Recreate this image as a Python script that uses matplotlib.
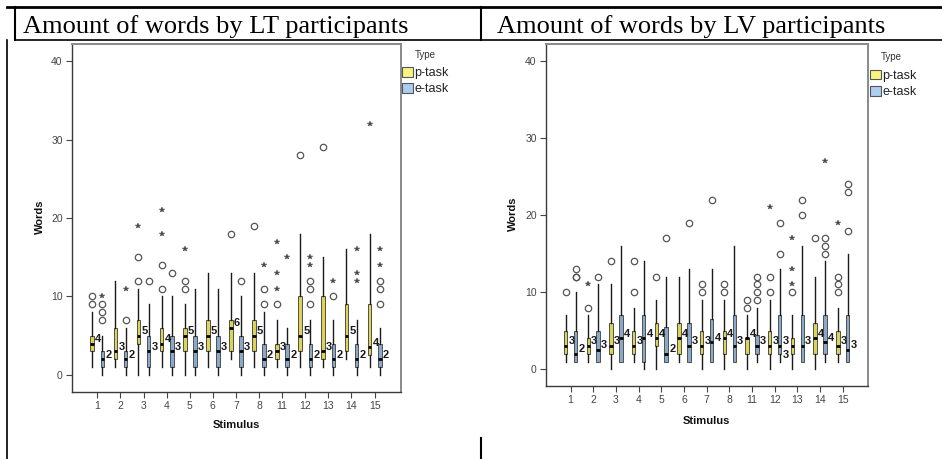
#!/usr/bin/env python3
"""Word counts per stimulus, LT vs LV participants (SPSS-style boxplots)."""

import numpy as np
import matplotlib
matplotlib.use("Agg")
import matplotlib.pyplot as plt
from matplotlib.lines import Line2D
from matplotlib.patches import Patch

W, H = 942, 459

STIMULI = ["1", "2", "3", "4", "5", "6", "7", "8", "11", "12", "13", "14", "15"]
TYPES = ["p-task", "e-task"]
YTICKS = [0, 10, 20, 30, 40]

# (lower whisker, Q1, median, Q3, upper whisker) per stimulus
LT_P_BOX = [(1, 3, 4, 5, 8), (1, 2, 3, 6, 12), (0, 4, 5, 7, 11), (1, 3, 4, 6, 10),
            (0, 3, 5, 6, 9), (1, 3, 5, 7, 13), (2, 3, 6, 7, 13), (1, 3, 5, 7, 13),
            (1, 2, 3, 4, 7), (1, 3, 5, 10, 18), (1, 2, 3, 10, 15), (2, 3, 5, 9, 16),
            (1, 2.5, 3.5, 9, 18)]
LT_P_CIRCLES = [[10, 9], [], [12, 15], [11, 14], [12, 11], [], [18], [19], [9],
                [28], [29], [], []]
LT_P_STARS = [[], [], [19], [18, 21], [16], [], [], [], [11, 13, 17], [], [], [], [32]]
LT_P_LABELS = ["4", "3", "5", "4", "5", "5", "6", "5", "3", "5", "3", "5", "4"]

LT_E_BOX = [(0, 1, 2, 3, 5), (0, 1, 2, 3, 6), (0, 1, 3, 5, 9), (0, 1, 3, 5, 10),
            (0, 1, 3, 5, 11), (0, 1, 3, 5, 11), (0, 1, 3, 5, 10), (0, 1, 2, 4, 8),
            (0, 1, 2, 4, 6), (0, 1, 2, 4, 7), (0, 1, 2, 4, 7), (0, 1, 2, 4, 7),
            (0, 1, 2, 4, 6)]
LT_E_CIRCLES = [[9, 8, 7], [7], [12], [13], [], [], [12], [9, 11], [], [9, 11, 12],
                [10], [], [12, 11, 9]]
LT_E_STARS = [[10], [11], [], [], [], [], [], [14], [15], [14, 15], [12],
              [16, 13, 12], [16, 14]]
LT_E_LABELS = ["2", "2", "3", "3", "3", "3", "3", "2", "2", "2", "2", "2", "2"]

LV_P_BOX = [(1, 2, 3, 5, 7), (1, 2, 3, 4, 7), (0, 2, 3, 6, 11), (1, 2, 3, 5, 8),
            (0, 3, 4, 6, 9), (1, 2, 4, 6, 12), (0, 2, 3, 5, 9), (0, 2, 4, 5, 9),
            (0, 2, 4, 4, 7), (0, 2, 3, 5, 9), (0, 2, 3, 4, 7), (0, 2, 4, 6, 12),
            (1, 2, 3, 5, 8)]
LV_P_CIRCLES = [[10], [8], [14], [10, 14], [12], [], [11, 10], [11, 10], [9, 8],
                [12, 10], [10], [17], [12, 11, 10]]
LV_P_STARS = [[], [11], [], [], [], [], [], [], [], [21], [11, 13, 17], [], [19]]
LV_P_LABELS = ["3", "3", "3", "3", "4", "4", "3", "4", "4", "3", "3", "4", "3"]

LV_E_BOX = [(1, 1, 2, 5, 10), (1, 1, 2.5, 5, 11), (1, 1, 4, 7, 16), (0, 1, 4, 7, 14),
            (1, 1, 2, 5.5, 12), (1, 1, 3, 6, 13), (1, 1, 3.5, 6.5, 13), (1, 1, 3, 7, 16),
            (1, 2, 3, 4.5, 8), (1, 2, 3, 7, 13), (1, 1, 3, 7, 16), (1, 2, 3.5, 7, 14),
            (1, 1, 2.5, 7, 15)]
LV_E_CIRCLES = [[12, 12, 13], [12], [], [], [17], [19], [22], [], [12, 11, 10, 9],
                [19, 15], [22, 20], [17, 16, 15], [24, 23, 18]]
LV_E_STARS = [[], [], [], [], [], [], [], [], [], [], [], [27], []]
LV_E_LABELS = ["2", "3", "4", "4", "2", "3", "4", "3", "3", "3", "3", "4", "3"]

P_FILL, E_FILL = "#ddd454", "#8aa8ca"
P_LEGEND, E_LEGEND = "#fbf380", "#abcdee"

plt.rcParams["font.family"] = ["Liberation Sans", "DejaVu Sans"]


def px(x, y):
    return x / W, 1 - y / H


def draw_panel(ax, series, left_labels=()):
    x = np.arange(len(STIMULI))
    box_w = 0.16
    for k, (boxes, circles, stars, labels, fill) in enumerate(series):
        pos = x + (-0.22 if k == 0 else 0.22)
        stats = [dict(whislo=b[0], q1=b[1], med=b[2], q3=b[3], whishi=b[4], fliers=[])
                 for b in boxes]
        ax.bxp(stats, positions=pos, widths=box_w, patch_artist=True,
               showcaps=False, showfliers=False, manage_ticks=False,
               boxprops=dict(facecolor=fill, edgecolor="#505050", linewidth=0.7),
               whiskerprops=dict(color="#1a1a1a", linewidth=1.0),
               medianprops=dict(color="black", linewidth=2.0, solid_capstyle="butt"))
        for p, vals in zip(pos, circles):
            ax.plot([p] * len(vals), vals, "o", mfc="none", mec="#555555",
                    ms=4.6, mew=0.9, ls="none")
        for p, vals in zip(pos, stars):
            ax.plot([p] * len(vals), vals, "*", color="#4a4a4a", ms=4.3, mew=0.3,
                    ls="none")
        for i, (p, b, lab) in enumerate(zip(pos, boxes, labels)):
            if (i, k) in left_labels:
                ax.annotate(lab, (p - box_w / 2, b[2]), xytext=(-1, -2.5),
                            textcoords="offset points", ha="right", va="top",
                            fontsize=8, fontweight="bold", color="#1a1a1a")
            else:
                ax.annotate(lab, (p + box_w / 2, b[2]), xytext=(0.8, 1.2),
                            textcoords="offset points", ha="left", va="baseline",
                            fontsize=8, fontweight="bold", color="#1a1a1a")

    ax.set_xticks(x)
    ax.set_xticklabels(STIMULI)
    ax.set_yticks(YTICKS)
    ax.tick_params(axis="both", labelsize=7.5, labelcolor="#444444", color="#444444",
                   length=4.5, width=0.8, pad=2)
    for side in ("left", "bottom"):
        ax.spines[side].set_color("#3a3a3a")
        ax.spines[side].set_linewidth(1.0)
    for side in ("top", "right"):
        ax.spines[side].set_color("#8a8a8a")
        ax.spines[side].set_linewidth(1.4)


fig = plt.figure(figsize=(W / 100, H / 100), dpi=100)

ax_lt = fig.add_axes([71.7 / W, 1 - 392 / H, (400.7 - 71.7) / W, (392 - 44) / H])
ax_lv = fig.add_axes([545.7 / W, 1 - 385.7 / H, (868.3 - 545.7) / W, (385.7 - 44) / H])

draw_panel(ax_lt, [(LT_P_BOX, LT_P_CIRCLES, LT_P_STARS, LT_P_LABELS, P_FILL),
                   (LT_E_BOX, LT_E_CIRCLES, LT_E_STARS, LT_E_LABELS, E_FILL)])
draw_panel(ax_lv, [(LV_P_BOX, LV_P_CIRCLES, LV_P_STARS, LV_P_LABELS, P_FILL),
                   (LV_E_BOX, LV_E_CIRCLES, LV_E_STARS, LV_E_LABELS, E_FILL)],
           left_labels={(10, 0)})
ax_lt.set_xlim(-1.11, 13.13)
ax_lv.set_xlim(-1.10, 13.13)
ax_lt.set_ylim(-2.17, 42.17)
ax_lv.set_ylim(-2.13, 42.2)

# axis titles
for (xw, yw), (xs, ys) in [((39.5, 217), (236, 425)), ((512.7, 214), (706.5, 420.7))]:
    fig.text(*px(xw, yw), "Words", rotation=90, ha="center", va="center",
             fontsize=8, fontweight="bold", color="#111111")
    fig.text(*px(xs, ys), "Stimulus", ha="center", va="center",
             fontsize=8, fontweight="bold", color="#111111")

# legends
handles = [Patch(facecolor=P_LEGEND, edgecolor="#555555", linewidth=0.8),
           Patch(facecolor=E_LEGEND, edgecolor="#555555", linewidth=0.8)]
for (tx, ty), (lx, ly) in [((415, 55), (402, 67)), ((881, 56.7), (870, 69.5))]:
    fig.text(*px(tx, ty), "Type", ha="left", va="center", fontsize=7, color="#333333")
    fig.legend(handles, TYPES, loc="upper left", bbox_to_anchor=px(lx, ly),
               frameon=False, fontsize=9, handlelength=0.85, handleheight=0.85,
               handletextpad=0.15, labelspacing=0.3, borderpad=0, borderaxespad=0,
               labelcolor="#222222")

# table headers and borders
fig.text(*px(23, 33), "Amount of words by LT participants", ha="left", va="baseline",
         fontsize=19, family="Liberation Serif")
fig.text(*px(497, 32.7), "Amount of words by LV participants", ha="left", va="baseline",
         fontsize=19, family="Liberation Serif")
for (x0, y0), (x1, y1), lw in [((7, 7), (942, 7), 2.0),
                               ((15, 7), (15, 40), 1.5),
                               ((481, 7), (481, 40), 1.5),
                               ((15, 40), (942, 40), 1.2),
                               ((7, 40), (7, 459), 1.2),
                               ((481, 438), (481, 459), 1.5)]:
    (a, b), (c, d) = px(x0, y0), px(x1, y1)
    fig.add_artist(Line2D([a, c], [b, d], color="black", linewidth=lw,
                          transform=fig.transFigure))

fig.savefig("out.png", dpi=100)
